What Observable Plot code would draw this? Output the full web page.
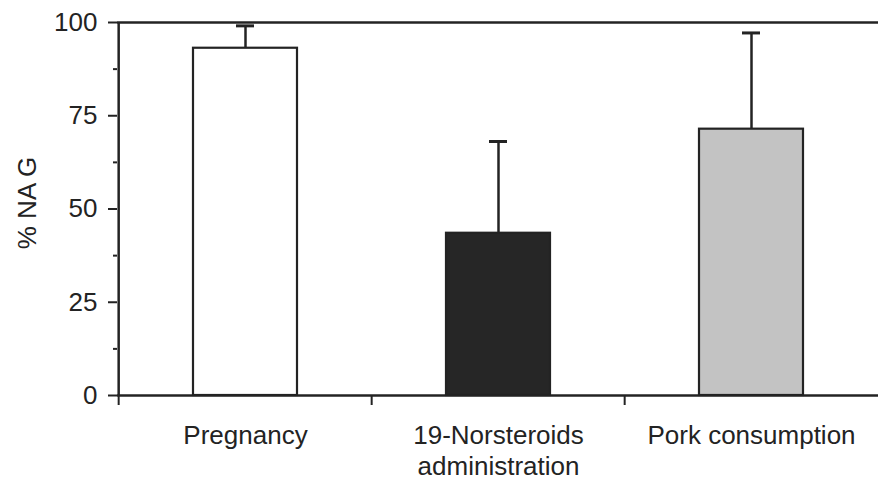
<!DOCTYPE html>
<html>
<head>
<meta charset="utf-8">
<script src="https://cdn.jsdelivr.net/npm/d3@7"></script>
<script src="https://cdn.jsdelivr.net/npm/@observablehq/plot@0.6"></script>
<style>
  html, body { margin: 0; padding: 0; background: #fff; }
  #chart svg { display: block; }
</style>
</head>
<body>
<div id="chart"></div>
<script>
const categories = ["Pregnancy", "19-Norsteroids\nadministration", "Pork consumption"];
const values = [93.1, 43.5, 71.4];
const errors = [6.0, 24.6, 25.8];
const yTicks = [0, 25, 50, 75, 100];
const yMinorTicks = [12.5, 37.5, 62.5, 87.5];
const yLabel = "% NA G";

const data = categories.map((c, i) => ({cat: c, value: values[i], err: errors[i]}));

const W = 878, H = 482, ML = 117, MR = 0, MT = 22, MB = 87;
const step = (W - ML - MR) / categories.length;
const ink = "#232323";

const chart = Plot.plot({
  width: W,
  height: H,
  marginLeft: ML,
  marginRight: MR,
  marginTop: MT,
  marginBottom: MB,
  style: {fontFamily: "'Liberation Sans', Arial, sans-serif", fontSize: "26px", color: ink, background: "#fff"},
  x: {domain: categories, paddingInner: 0.59, paddingOuter: 0.295, axis: null},
  y: {domain: [0, 100], axis: null},
  color: {domain: categories, range: ["#ffffff", "#262626", "#c3c3c3"]},
  marks: [
    Plot.ruleX(data, {x: "cat", y1: "value", y2: d => d.value + d.err, stroke: ink, strokeWidth: 2.5}),
    Plot.tickY(data, {x: "cat", y: d => d.value + d.err, insetLeft: 43, insetRight: 43, stroke: ink, strokeWidth: 3}),
    Plot.barY(data, {x: "cat", y: "value", fill: "cat", stroke: ink, strokeWidth: 2.2}),
    Plot.ruleY([100], {stroke: ink, strokeWidth: 2.5}),
    Plot.ruleY([0], {stroke: ink, strokeWidth: 2.5}),
    Plot.ruleX([categories[0]], {x: d => d, y1: 0, y2: 100, dx: -step / 2, stroke: ink, strokeWidth: 2.5}),
    Plot.axisY({ticks: yTicks, tickSize: 9, tickPadding: 11, tickFormat: d => d, label: null, stroke: ink, strokeWidth: 2, fill: ink, fontSize: 26}),
    Plot.axisY({ticks: yMinorTicks, tickSize: 4, text: null, label: null, stroke: ink, strokeWidth: 2}),
    Plot.axisX({tickSize: 10, text: null, label: null, dx: -step / 2, stroke: ink, strokeWidth: 2}),
    Plot.axisX({tickSize: 0, tickPadding: 27, label: null, lineHeight: 1.18, fill: ink, fontSize: 26}),
    Plot.text([yLabel], {frameAnchor: "left", textAnchor: "middle", rotate: -90, dx: -90, dy: -6, text: d => d, fontSize: 26, fill: ink})
  ]
});

document.getElementById("chart").appendChild(chart);
</script>
</body>
</html>
